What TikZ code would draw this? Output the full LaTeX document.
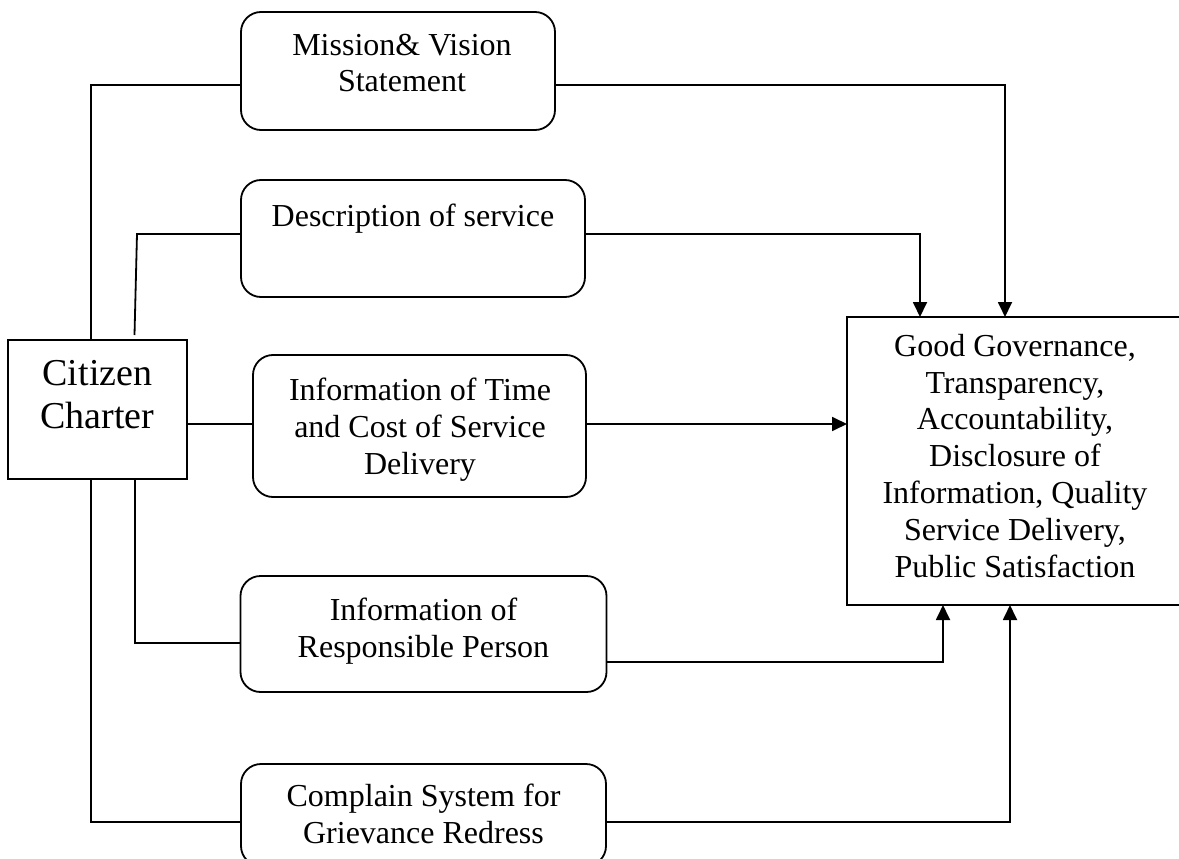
\documentclass[tikz,border=0pt]{standalone}
\usepackage{fontspec}
\setmainfont{Liberation Serif}
\usetikzlibrary{arrows.meta}
\begin{document}
\begin{tikzpicture}[x=1pt,y=-1pt,line width=1.8pt,
  rbox/.style={draw,rounded corners=20pt,inner sep=0pt,outer sep=0pt},
  sbox/.style={draw,inner sep=0pt,outer sep=0pt},
  txt/.style={anchor=base,align=center,inner sep=0pt,font=\fontsize{32}{36.8}\selectfont},
  bigtxt/.style={anchor=base,align=center,inner sep=0pt,font=\fontsize{38}{42.3}\selectfont},
  arr/.style={-{Triangle[length=15pt,width=14pt]}}]
\useasboundingbox (0,0) rectangle (1179,859);
\clip (0,0) rectangle (1179,859);

% boxes
\node[sbox,minimum width=179pt,minimum height=139pt] (citizen) at (97.5,409.5) {};
\node[rbox,minimum width=314pt,minimum height=118pt] (mission) at (398,71) {};
\node[rbox,minimum width=344pt,minimum height=117pt] (desc) at (413,238.5) {};
\node[rbox,minimum width=333pt,minimum height=142pt] (time) at (419.5,426) {};
\node[rbox,minimum width=366pt,minimum height=116pt] (resp) at (423.5,634) {};
\node[rbox,minimum width=365pt,minimum height=102pt] (complain) at (423.5,815) {};
\node[sbox,minimum width=343pt,minimum height=288pt] (gg) at (1018.5,461) {};

% texts (anchored at the baseline of their last line)
\node[bigtxt] (citizentxt) at (97.5,428) {Citizen\\Charter};
\node[txt] (missiontxt) at (402,92) {Mission\& Vision\\Statement};
\node[txt] (desctxt) at (413,226.5) {Description of service};
\node[txt] (timetxt) at (420,474) {Information of Time\\and Cost of Service\\Delivery};
\node[txt] (resptxt) at (423.5,657) {Information of\\Responsible Person};
\node[txt] (complaintxt) at (423.5,843) {Complain System for\\Grievance Redress};
\node[txt] (ggtxt) at (1015,577) {Good Governance,\\Transparency,\\Accountability,\\Disclosure of\\Information, Quality\\Service Delivery,\\Public Satisfaction};

% bend points
\coordinate (m1) at (91,85);
\coordinate (m2) at (1005,85);
\coordinate (d0) at (134.5,335);
\coordinate (d1) at (137,234);
\coordinate (d2) at (920,234);
\coordinate (t) at (0,424);
\coordinate (r1) at (135,643);
\coordinate (r2) at (943,662);
\coordinate (c1) at (91,822);
\coordinate (c2) at (1010,822);

% from the charter to the five components
\draw (citizen.north -| m1) |- (mission.west |- m1);
\draw (d0) -- (d1) -- (desc.west |- d1);
\draw (citizen.east |- t) -- (time.west |- t);
\draw (citizen.south -| r1) |- (resp.west |- r1);
\draw (citizen.south -| c1) |- (complain.west |- c1);

% from the components to the outcomes
\draw[arr] (mission.east |- m1) -| (gg.north -| m2);
\draw[arr] (desc.east |- d1) -| (gg.north -| d2);
\draw[arr] (time.east |- t) -- (gg.west |- t);
\draw[arr] (resp.east |- r2) -| (gg.south -| r2);
\draw[arr] (complain.east |- c1) -| (gg.south -| c2);
\end{tikzpicture}
\end{document}
